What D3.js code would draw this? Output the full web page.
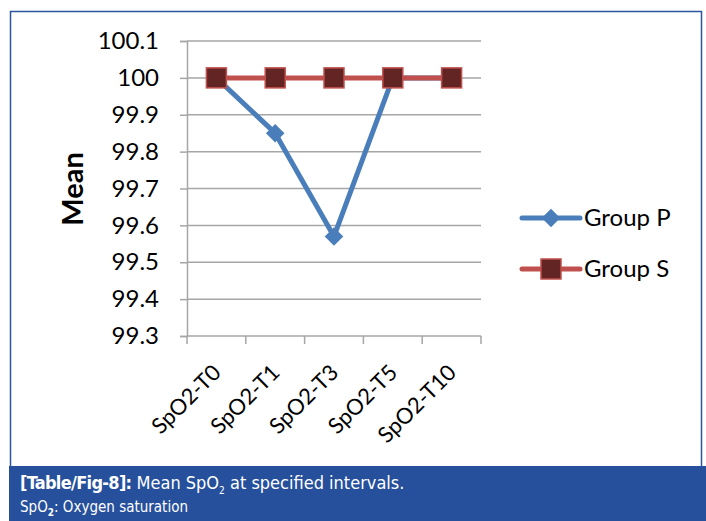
<!DOCTYPE html>
<html>
<head>
<meta charset="utf-8">
<script src="https://cdn.jsdelivr.net/npm/d3@7"></script>
<style>
	body { margin: 0; background: #fff; }
	svg { display: block; }
</style>
</head>
<body>
<svg id="chart"></svg>
<script>
// mean SpO2 at the intervals, two groups

const categories = ["SpO2-T0", "SpO2-T1", "SpO2-T3", "SpO2-T5", "SpO2-T10"];
const groupP = [100, 99.85, 99.57, 100, 100];
const groupS = [100, 100, 100, 100, 100];
const yTicks = [99.3, 99.4, 99.5, 99.6, 99.7, 99.8, 99.9, 100, 100.1];
const seriesNames = ["Group P", "Group S"];

const W = 706, H = 521;
const chartFont = "Lato, 'Open Sans', sans-serif";
const capFont = "'Liberation Sans Narrow', 'DejaVu Sans Condensed', sans-serif";

let svg = d3.select("#chart").attr("width", W).attr("height", H);

// outer frame
svg.append("rect")
	.attr("x", 10.5).attr("y", 11.5)
	.attr("width", 691).attr("height", 456)
	.attr("fill", "#fff")
	.attr("stroke", "#2c55a0")
	.attr("stroke-width", 1.5);

let x = d3.scaleBand().domain(categories).range([187, 481]);
let y = d3.scaleLinear().domain([99.3, 100.1]).range([336, 41]);

// gridlines
svg.append("g").selectAll("line")
	.data(yTicks.slice(1))
	.join("line")
	.attr("x1", 187).attr("x2", 481)
	.attr("y1", d => y(d)).attr("y2", d => y(d))
	.attr("stroke", "#a6a6a6")
	.attr("stroke-width", 1.5);

// y axis
let yAxis = svg.append("g")
	.attr("transform", "translate(187,0)")
	.call(d3.axisLeft(y).tickValues(yTicks).tickSize(7).tickPadding(21)
		.tickFormat(d => d3.format("")(+d.toFixed(1))));
yAxis.select(".domain").attr("stroke", "#a6a6a6").attr("stroke-width", 1.5);
yAxis.selectAll(".tick line").attr("stroke", "#a6a6a6").attr("stroke-width", 1.5);
yAxis.selectAll("text")
	.style("font-family", chartFont)
	.style("font-size", "24px")
	.attr("fill", "#000");

// x axis, ticks on band edges
let xAxis = svg.append("g").attr("transform", "translate(0,336)");
xAxis.append("line")
	.attr("x1", 187).attr("x2", 481)
	.attr("stroke", "#a6a6a6").attr("stroke-width", 1.5);
let edges = categories.map(c => x(c)).concat([x.range()[1]]);
xAxis.selectAll(".edge")
	.data(edges)
	.join("line")
	.attr("class", "edge")
	.attr("x1", d => d).attr("x2", d => d)
	.attr("y1", 0).attr("y2", 8)
	.attr("stroke", "#a6a6a6").attr("stroke-width", 1.5);
xAxis.selectAll("text")
	.data(categories)
	.join("text")
	.attr("transform", d => "translate(" + (x(d) + x.bandwidth() / 2 - 5) + ",27) rotate(-45)")
	.attr("text-anchor", "end")
	.attr("dy", "0.7em")
	.style("font-family", chartFont)
	.style("font-size", "22px")
	.text(d => d);

// axis title
svg.append("text")
	.attr("transform", "translate(83,189) rotate(-90)")
	.attr("text-anchor", "middle")
	.style("font-family", chartFont)
	.style("font-weight", "bold")
	.style("font-size", "29px")
	.text("Mean");

let line = d3.line()
	.x((d, i) => x(categories[i]) + x.bandwidth() / 2)
	.y(d => y(d));

// group P
svg.append("path")
	.datum(groupP)
	.attr("d", line)
	.attr("fill", "none")
	.attr("stroke", "#4a7ebb")
	.attr("stroke-width", 5)
	.attr("stroke-linejoin", "round");
svg.append("g").selectAll("path")
	.data(groupP)
	.join("path")
	.attr("d", d3.symbol(d3.symbolDiamond2, 220))
	.attr("transform", (d, i) => "translate(" + (x(categories[i]) + x.bandwidth() / 2) + "," + y(d) + ")")
	.attr("fill", "#4a7ebb");

// group S
svg.append("path")
	.datum(groupS)
	.attr("d", line)
	.attr("fill", "none")
	.attr("stroke", "#c0504d")
	.attr("stroke-width", 5);
svg.append("g").selectAll("rect")
	.data(groupS)
	.join("rect")
	.attr("x", (d, i) => x(categories[i]) + x.bandwidth() / 2 - 10)
	.attr("y", d => y(d) - 10)
	.attr("width", 20).attr("height", 20)
	.attr("fill", "#632523")
	.attr("stroke", "#c0504d")
	.attr("stroke-width", 1.5);

// legend
let legend = svg.append("g").selectAll("g")
	.data(seriesNames)
	.join("g")
	.attr("transform", (d, i) => "translate(522," + (218 + i * 51) + ")");
legend.append("line")
	.attr("x1", 0).attr("x2", 58)
	.attr("stroke", (d, i) => i == 0 ? "#4a7ebb" : "#c0504d")
	.attr("stroke-width", 5)
	.attr("stroke-linecap", "round");
legend.filter((d, i) => i == 0).append("path")
	.attr("d", d3.symbol(d3.symbolDiamond2, 220))
	.attr("transform", "translate(29,0)")
	.attr("fill", "#4a7ebb");
legend.filter((d, i) => i == 1).append("rect")
	.attr("x", 19).attr("y", -10)
	.attr("width", 20).attr("height", 20)
	.attr("fill", "#632523")
	.attr("stroke", "#c0504d")
	.attr("stroke-width", 1.5);
legend.append("text")
	.attr("x", 62)
	.attr("dy", "0.35em")
	.style("font-family", chartFont)
	.style("font-size", "24px")
	.text(d => d);

// caption bar
svg.append("rect")
	.attr("x", 9).attr("y", 466)
	.attr("width", W - 9).attr("height", H - 466)
	.attr("fill", "#26509c");
let cap1 = svg.append("text")
	.attr("x", 20).attr("y", 489)
	.attr("fill", "#fff")
	.style("font-family", capFont)
	.style("font-size", "18px");
cap1.append("tspan").style("font-weight", "bold").style("letter-spacing", "-0.7px").text("[Table/Fig-8]:");
cap1.append("tspan").text(" Mean SpO");
cap1.append("tspan").attr("dy", 5).style("font-size", "10px").text("2");
cap1.append("tspan").attr("dy", -5).text(" at specified intervals.");
let cap2 = svg.append("text")
	.attr("x", 20).attr("y", 512)
	.attr("fill", "#fff")
	.style("font-family", capFont)
	.style("font-size", "15px");
cap2.append("tspan").text("SpO");
cap2.append("tspan").attr("dy", 4).style("font-size", "10px").style("font-weight", "bold").text("2");
cap2.append("tspan").attr("dy", -4).text(": Oxygen saturation");
</script>
</body>
</html>
